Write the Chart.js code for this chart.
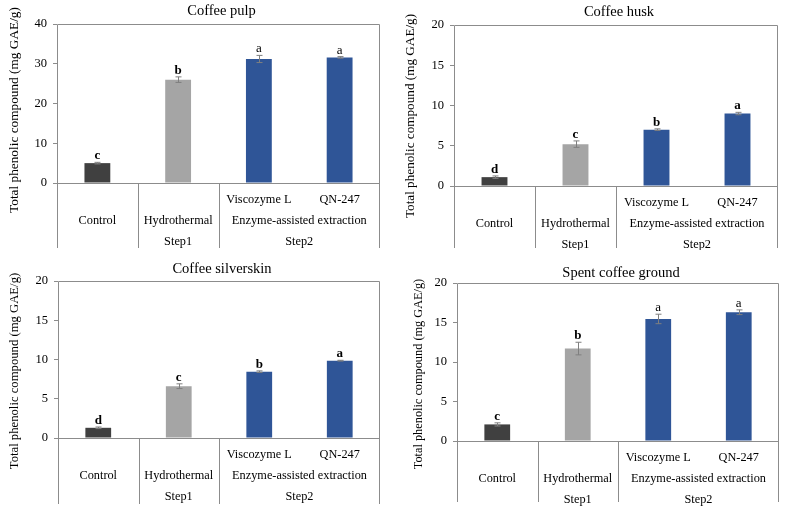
<!DOCTYPE html>
<html>
<head>
<meta charset="utf-8">
<script src="https://cdn.jsdelivr.net/npm/chart.js@4.4.0/dist/chart.umd.min.js"></script>
<style>
  body { margin: 0; background: #fff; }
  #wrap { position: relative; width: 787px; height: 509px; background: #fff; }
  canvas { position: absolute; }
</style>
</head>
<body>
<div id="wrap">
  <canvas id="pulp" width="393" height="250" style="left:0px;top:0px"></canvas>
  <canvas id="husk" width="394" height="250" style="left:393px;top:0px"></canvas>
  <canvas id="silverskin" width="393" height="255" style="left:0px;top:254px"></canvas>
  <canvas id="spent" width="394" height="255" style="left:393px;top:254px"></canvas>
</div>
<script>
// categories and table labels
var categories = ["Control", "Hydrothermal", "Viscozyme L", "QN-247"];
var methodLabels = ["Control", "Hydrothermal", "Enzyme-assisted extraction"];
var stepLabels = ["", "Step1", "Step2"];
var yAxisTitle = "Total phenolic compound (mg GAE/g)";

// Coffee pulp
var pulpMeans = [5.0, 26.0, 31.2, 31.6];
var pulpErrors = [0.2, 0.7, 0.9, 0.2];
var pulpLetters = ["c", "b", "a", "a"];

// Coffee husk
var huskMeans = [1.1, 5.2, 7.0, 9.0];
var huskErrors = [0.15, 0.4, 0.1, 0.15];
var huskLetters = ["d", "c", "b", "a"];

// Coffee silverskin
var silverMeans = [1.3, 6.6, 8.45, 9.85];
var silverErrors = [0.1, 0.3, 0.1, 0.05];
var silverLetters = ["d", "c", "b", "a"];

// Spent coffee ground
var spentMeans = [2.1, 11.7, 15.45, 16.3];
var spentErrors = [0.2, 0.8, 0.6, 0.3];
var spentLetters = ["c", "b", "a", "a"];

var barColors = ["#404040", "#a5a5a5", "#2f5597", "#2f5597"];
var lineColor = "#8c8c8c";
var serif = "'Liberation Serif', 'Times New Roman', serif";

// draws frame, table under the axis, error bars, letters, title and y label
var tablePlugin = {
  id: "tablePlugin",
  afterDatasetsDraw: function (chart, args, opts) {
    var ctx = chart.ctx;
    var area = chart.chartArea;
    var xs = chart.scales.x;
    var ys = chart.scales.y;
    var L = Math.round(area.left) + 0.5;
    var R = Math.round(area.right) - 0.5;
    var T = Math.round(area.top) + 0.5;
    var B = Math.round(area.bottom) + 0.5;
    var bottom = opts.tableBottom;
    var cx = function (i) { return xs.getPixelForValue(i); };

    ctx.save();
    ctx.strokeStyle = lineColor;
    ctx.lineWidth = 1;
    ctx.beginPath();
    ctx.moveTo(L, bottom);
    ctx.lineTo(L, T);
    ctx.lineTo(R, T);
    ctx.lineTo(R, bottom);
    ctx.moveTo(L, B);
    ctx.lineTo(R, B);
    [0, 1].forEach(function (i) {
      var d = Math.round((cx(i) + cx(i + 1)) / 2) + 0.5;
      ctx.moveTo(d, B);
      ctx.lineTo(d, bottom);
    });
    ctx.stroke();

    // error bars
    ctx.strokeStyle = "#7f7f7f";
    ctx.beginPath();
    opts.means.forEach(function (m, i) {
      var x = Math.round(cx(i)) + 0.5;
      var top = ys.getPixelForValue(m + opts.errors[i]);
      var bot = ys.getPixelForValue(m - opts.errors[i]);
      ctx.moveTo(x, top);
      ctx.lineTo(x, bot);
      ctx.moveTo(x - 3, top);
      ctx.lineTo(x + 3, top);
      ctx.moveTo(x - 3, bot);
      ctx.lineTo(x + 3, bot);
    });
    ctx.stroke();

    // significance letters
    ctx.fillStyle = "#000";
    ctx.textAlign = "center";
    ctx.textBaseline = "alphabetic";
    opts.letters.forEach(function (t, i) {
      var top = ys.getPixelForValue(opts.means[i] + opts.errors[i]);
      ctx.font = opts.letterWeights[i] + " 13px " + serif;
      ctx.fillText(t, cx(i), top - 3);
    });

    // table text
    ctx.textBaseline = "middle";
    ctx.font = "12.3px " + serif;
    var mid23 = (cx(2) + cx(3)) / 2;
    ctx.fillText(categories[2], cx(2), B + 16);
    ctx.fillText(categories[3], cx(3), B + 16);
    ctx.fillText(methodLabels[0], cx(0), B + 37);
    ctx.fillText(methodLabels[1], cx(1), B + 37);
    ctx.fillText(methodLabels[2], mid23, B + 37);
    ctx.fillText(stepLabels[1], cx(1), B + 58);
    ctx.fillText(stepLabels[2], mid23, B + 58);

    // title
    ctx.font = "14.5px " + serif;
    ctx.fillText(opts.title, (area.left + area.right) / 2 + 3, opts.titleY);

    // y axis title
    ctx.translate(opts.labelX, opts.labelY);
    ctx.rotate(-Math.PI / 2);
    ctx.font = opts.labelSize + "px " + serif;
    ctx.fillText(yAxisTitle, 0, 0);
    ctx.restore();
  }
};

function makePanel(id, cfg) {
  var canvas = document.getElementById(id);
  return new Chart(canvas, {
    type: "bar",
    data: {
      labels: categories,
      datasets: [
        {
          data: cfg.means,
          backgroundColor: barColors,
          borderWidth: 0,
          barPercentage: 0.32,
          categoryPercentage: 1,
        },
      ],
    },
    plugins: [tablePlugin],
    options: {
      responsive: false,
      animation: false,
      devicePixelRatio: 1,
      layout: {
        padding: {
          left: 0,
          top: cfg.top,
          right: canvas.width - cfg.right,
          bottom: canvas.height - cfg.zero,
        },
      },
      plugins: {
        legend: { display: false },
        tooltip: { enabled: false },
        tablePlugin: {
          title: cfg.title,
          titleY: cfg.titleY,
          labelX: cfg.labelX,
          labelY: cfg.labelY,
          labelSize: cfg.labelSize,
          tableBottom: cfg.tableBottom,
          means: cfg.means,
          errors: cfg.errors,
          letters: cfg.letters,
          letterWeights: cfg.letterWeights,
        },
      },
      scales: {
        x: { display: false },
        y: {
          min: 0,
          max: cfg.max,
          ticks: {
            stepSize: cfg.step,
            color: "#000",
            padding: 6,
            font: { family: serif, size: 12.5 },
          },
          grid: {
            drawOnChartArea: false,
            drawTicks: true,
            tickLength: 4,
            color: lineColor,
          },
          border: { display: false },
          afterFit: function (scale) {
            scale.width = cfg.left;
          },
        },
      },
    },
  });
}

makePanel("pulp", {
  title: "Coffee pulp", titleY: 11,
  left: 57, right: 380, top: 24, zero: 183, tableBottom: 248,
  labelX: 15, labelY: 110, labelSize: 13.3,
  max: 40, step: 10,
  means: pulpMeans, errors: pulpErrors, letters: pulpLetters,
  letterWeights: ["bold", "bold", "normal", "normal"],
});

makePanel("husk", {
  title: "Coffee husk", titleY: 12,
  left: 61, right: 385, top: 25, zero: 186, tableBottom: 248,
  labelX: 18, labelY: 116, labelSize: 13.2,
  max: 20, step: 5,
  means: huskMeans, errors: huskErrors, letters: huskLetters,
  letterWeights: ["bold", "bold", "bold", "bold"],
});

makePanel("silverskin", {
  title: "Coffee silverskin", titleY: 15,
  left: 58, right: 380, top: 27, zero: 184, tableBottom: 250,
  labelX: 15, labelY: 117, labelSize: 12.7,
  max: 20, step: 5,
  means: silverMeans, errors: silverErrors, letters: silverLetters,
  letterWeights: ["bold", "bold", "bold", "bold"],
});

makePanel("spent", {
  title: "Spent coffee ground", titleY: 19,
  left: 64, right: 386, top: 29, zero: 187, tableBottom: 248,
  labelX: 26, labelY: 120, labelSize: 12.3,
  max: 20, step: 5,
  means: spentMeans, errors: spentErrors, letters: spentLetters,
  letterWeights: ["bold", "bold", "normal", "normal"],
});
</script>
</body>
</html>
